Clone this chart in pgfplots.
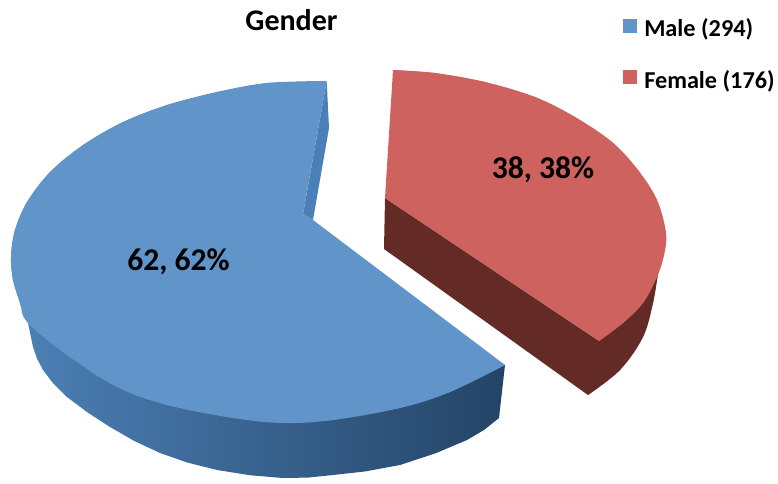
\documentclass[border=0pt]{standalone}
\usepackage{fontspec}
\setmainfont{Carlito}
\usepackage{pgfplots}
\pgfplotsset{compat=1.18}
\definecolor{bluetop}{RGB}{97,148,200}
\definecolor{bluewall}{RGB}{74,127,184}
\definecolor{blueL}{RGB}{76,128,182}
\definecolor{blueM}{RGB}{48,84,122}
\definecolor{blueR}{RGB}{36,68,102}
\definecolor{redtop}{RGB}{205,98,94}
\definecolor{redside}{RGB}{99,42,38}
\begin{document}
\begin{tikzpicture}
\path[use as bounding box] (0,0) rectangle (583.5pt,363pt);
\begin{axis}[
  at={(0,0)}, anchor=south west,
  scale only axis, width=583.5pt, height=363pt,
  xmin=0, xmax=778, ymin=0, ymax=484, y dir=reverse,
  hide axis, clip=false,
]
% red side
\addplot[fill=redside, draw=none] coordinates {
(385,198)(384,249)(588,395)(620,370)(643,337)(653,303)(658,273)(599,341)};
\addplot[fill=redside, draw=none, smooth, tension=0.6] coordinates {
(588,395)(620,370)(643,337)(653,303)(658,273)};
% red top
\addplot[fill=redtop, draw=none] coordinates {
(393,70)(435,73)(485,82)(535,97)(575,117)(612,142)(638,170)(657,200)(666,233)(664,255)(657,277)(643,303)(623,323)(599,341)(385,198)};
\addplot[fill=redtop, draw=none, smooth, tension=0.6] coordinates {
(393,70)(435,73)(485,82)(535,97)(575,117)(612,142)(638,170)(657,200)(666,233)(664,255)(657,277)(643,303)(623,323)(599,341)};
% blue side
\addplot[shade, shading=axis, left color=blueL, middle color=blueM, right color=blueR, draw=none] coordinates {
(20,303)(28,323)(33,347)(37,358.6)(43,370)(52.9,383)(67,397)(86.9,412)(110,427)(134,440.8)(160,453)(187.5,462.6)(217,470)(250.4,475.3)(283,478)(307.9,477.6)(333,475)(365.4,471.4)(400,465)(435.7,453.25)(467,440)(484,430)(499,418)(505,365)(283,380)(67,340)};
% blue inner wall
\addplot[fill=bluewall, draw=none] coordinates {
(326.7,81)(329,128)(313,220)(303,214)};
% blue top
\addplot[fill=bluetop, draw=none] coordinates {
(326.7,81)(267,83)(217,92)(167,105)(123,122)(83,145)(50,172)(27,202)(15,230)(11,257)(13,280)(20,303)(28,323)(67,355)(117,387)(167,405)(233,418)(283,423)(333,420)(400,408)(450,392)(505,365)(313,220)(303,214)};
\addplot[fill=bluetop, draw=none, smooth, tension=0.6] coordinates {
(326.7,81)(267,83)(217,92)(167,105)(123,122)(83,145)(50,172)(27,202)(15,230)(11,257)(13,280)};
\addplot[fill=bluetop, draw=none, smooth, tension=0.6] coordinates {
(27,202)(15,230)(11,257)(13,280)(20,303)(28,323)(67,355)(117,387)(167,405)(233,418)(283,423)(333,420)(400,408)(450,392)(505,365)};
% legend keys
\addplot[fill=bluetop, draw=none] coordinates {(623,19)(637,19)(637,33)(623,33)};
\addplot[fill=redtop, draw=none] coordinates {(623,70)(637,70)(637,84)(623,84)};
% texts
\node[font=\bfseries\fontsize{22.5}{22.5}\selectfont, text=black] at (axis cs:291.5,20) {Gender};
\node[font=\bfseries\fontsize{18.2}{18.2}\selectfont, anchor=west, inner sep=0pt] at (axis cs:644,29) {Male (294)};
\node[font=\bfseries\fontsize{18.2}{18.2}\selectfont, anchor=west, inner sep=0pt] at (axis cs:644,81) {Female (176)};
\node[font=\bfseries\fontsize{23.7}{23.7}\selectfont] at (axis cs:178.5,262) {62, 62\%};
\node[font=\bfseries\fontsize{23.7}{23.7}\selectfont] at (axis cs:543,170) {38, 38\%};
\end{axis}
\end{tikzpicture}
\end{document}
